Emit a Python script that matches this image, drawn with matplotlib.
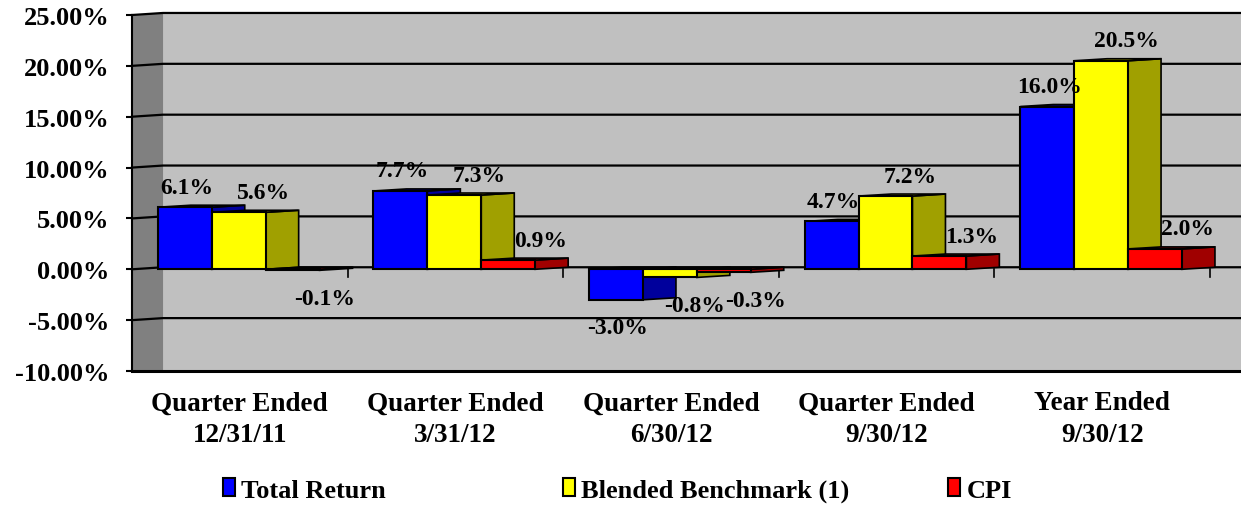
import numpy as np
import matplotlib.pyplot as plt
from matplotlib.patches import Polygon, Patch
from matplotlib.ticker import FuncFormatter

# chart data (percent)
categories = ["Quarter Ended\n12/31/11", "Quarter Ended\n3/31/12", "Quarter Ended\n6/30/12",
              "Quarter Ended\n9/30/12", "Year Ended\n9/30/12"]
series_names = ["Total Return", "Blended Benchmark (1)", "CPI"]
total_return = [6.1, 7.7, -3.0, 4.7, 16.0]
blended_benchmark = [5.6, 7.3, -0.8, 7.2, 20.5]
cpi = [-0.1, 0.9, -0.3, 1.3, 2.0]
y_ticks = [-10, -5, 0, 5, 10, 15, 20, 25]

# styles
front_colors = ['#0000FF', '#FFFF00', '#FF0000']
side_colors = ['#00009C', '#A0A000', '#A00000']
label_dx = [2, 25, 32]          # px nudges, mimics excel 3-d label placement
legend_x = [223, 563, 948]      # px, left edge of each legend entry

plt.rcParams['font.family'] = ['Liberation Serif', 'DejaVu Serif']
plt.rcParams['font.weight'] = 'bold'

fig = plt.figure(figsize=(12.41, 5.06), dpi=100)
ax = fig.add_axes([132 / 1241, 1 - 372 / 506, 1109 / 1241, 356 / 506])
x_max = 1109 / 215.6
ax.set_xlim(0, x_max)
ax.set_ylim(-10, 25)
ax.set_facecolor('none')
for sp in ax.spines.values():
    sp.set_visible(False)

depth_x, depth_y = 0.153, 0.2    # bar depth
wall_x, wall_y = 0.144, 0.2      # back wall offset

# walls
ax.add_patch(Polygon([(wall_x, -10), (x_max, -10), (x_max, 25 + wall_y), (wall_x, 25 + wall_y)],
                     closed=True, fc='#C0C0C0', ec='none', zorder=0, clip_on=False))
ax.add_patch(Polygon([(0, -10), (0, 25), (wall_x, 25 + wall_y), (wall_x, -10)],
                     closed=True, fc='#808080', ec='none', zorder=0, clip_on=False))

# gridlines on the walls
for t in y_ticks[1:]:
    ax.plot([0, wall_x, x_max], [t, t + wall_y, t + wall_y], color='black', lw=1.6,
            zorder=1, clip_on=False)
ax.plot([0, x_max], [-10, -10], color='black', lw=2.2, zorder=1, clip_on=False)
ax.plot([0, 0], [-10, 25], color='black', lw=1.5, zorder=1, clip_on=False)
for k in range(1, len(categories) + 1):
    ax.plot([k, k], [0, -0.8], color='black', lw=1.2, zorder=1)

# bars with a fake 3-d side and top
bar_w = 0.25
offset = 0.12
values = [total_return, blended_benchmark, cpi]
idx = np.arange(len(categories))
for s, vals in enumerate(values):
    xc = idx + offset + bar_w * s + bar_w / 2
    for x, v in zip(xc, vals):
        x0, x1 = x - bar_w / 2, x + bar_w / 2
        side = [(x1, 0), (x1, v), (x1 + depth_x, v + depth_y), (x1 + depth_x, depth_y)]
        h = max(v, 0)
        top = [(x0, h), (x0 + depth_x, h + depth_y), (x1 + depth_x, h + depth_y), (x1, h)]
        ax.add_patch(Polygon(side, closed=True, fc=side_colors[s], ec='black', lw=1.2, zorder=3 + 2 * s))
        ax.add_patch(Polygon(top, closed=True, fc=side_colors[s], ec='black', lw=1.2, zorder=3 + 2 * s))
    ax.bar(xc, vals, width=bar_w, color=front_colors[s], edgecolor='black', lw=1.5, zorder=4 + 2 * s)
    for x, v in zip(xc, vals):
        dy = 20 if v >= 0 else -28
        ax.annotate(f"{v:.1f}%", xy=(x, v), xytext=(label_dx[s] * 0.72, dy * 0.72),
                    textcoords='offset points', ha='center', va='center',
                    fontsize=17, fontweight='bold', zorder=20)

ax.set_xticks(idx + 0.5)
ax.set_xticklabels(categories, fontsize=19.5, fontweight='bold', linespacing=1.35)
ax.tick_params(axis='x', length=0, pad=14)
ax.set_yticks(y_ticks)
ax.yaxis.set_major_formatter(FuncFormatter(lambda v, p: f"{v:.2f}%"))
ax.tick_params(axis='y', length=4, width=1.5, pad=12, labelsize=19)

# legend, one entry per block like the excel layout
for c, name, lx in zip(front_colors, series_names, legend_x):
    fig.legend([Patch(fc=c, ec='black', lw=1.5)], [name], loc='center left',
               bbox_to_anchor=(lx / 1241, 1 - 491 / 506), frameon=False,
               handlelength=0.45, handleheight=0.65, handletextpad=0.25,
               borderpad=0, borderaxespad=0, prop={'size': 19, 'weight': 'bold'})

fig.savefig('out.png', dpi=100)
